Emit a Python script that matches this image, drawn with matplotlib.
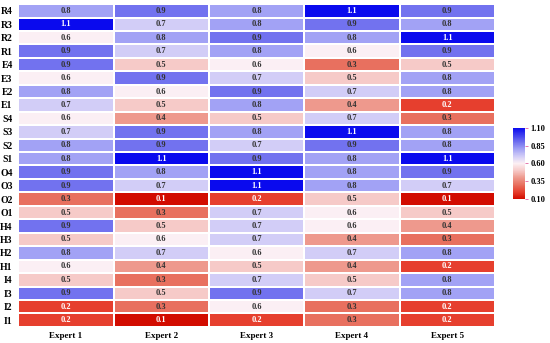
import numpy as np
import matplotlib
matplotlib.use("Agg")
import matplotlib.pyplot as plt
from matplotlib.colors import LinearSegmentedColormap, Normalize

# rows listed from top to bottom
rows = ["R4", "R3", "R2", "R1", "E4", "E3", "E2", "E1", "S4", "S3", "S2", "S1",
        "O4", "O3", "O2", "O1", "H4", "H3", "H2", "H1", "I4", "I3", "I2", "I1"]
experts = ["Expert 1", "Expert 2", "Expert 3", "Expert 4", "Expert 5"]

expert1 = [0.8, 1.1, 0.6, 0.9, 0.9, 0.6, 0.8, 0.7, 0.6, 0.7, 0.8, 0.8,
           0.9, 0.9, 0.3, 0.5, 0.9, 0.5, 0.8, 0.6, 0.5, 0.9, 0.2, 0.2]
expert2 = [0.9, 0.7, 0.8, 0.7, 0.5, 0.9, 0.6, 0.5, 0.4, 0.9, 0.9, 1.1,
           0.8, 0.7, 0.1, 0.3, 0.5, 0.6, 0.7, 0.4, 0.3, 0.5, 0.3, 0.1]
expert3 = [0.8, 0.8, 0.9, 0.8, 0.6, 0.7, 0.9, 0.8, 0.5, 0.8, 0.7, 0.9,
           1.1, 1.1, 0.2, 0.7, 0.7, 0.7, 0.6, 0.5, 0.7, 0.9, 0.6, 0.2]
expert4 = [1.1, 0.9, 0.8, 0.6, 0.3, 0.5, 0.7, 0.4, 0.7, 1.1, 0.9, 0.8,
           0.8, 0.8, 0.5, 0.6, 0.6, 0.4, 0.7, 0.4, 0.5, 0.7, 0.3, 0.3]
expert5 = [0.9, 0.8, 1.1, 0.9, 0.5, 0.8, 0.8, 0.2, 0.3, 0.8, 0.8, 1.1,
           0.9, 0.7, 0.1, 0.5, 0.4, 0.3, 0.8, 0.2, 0.8, 0.8, 0.2, 0.2]

cbar_ticks = [0.10, 0.35, 0.60, 0.85, 1.10]

data = np.array([expert1, expert2, expert3, expert4, expert5]).T

# red -> white -> blue, nodes picked to match the cell colours
vmin, vmax = 0.1, 1.1
nodes = [(0.1, "#d20c00"), (0.2, "#e6402f"), (0.3, "#e8705f"), (0.4, "#ee9a8e"),
         (0.5, "#f6cac8"), (0.6, "#fcf0f4"), (0.7, "#d2cdf7"), (0.8, "#a3a3f5"),
         (0.9, "#7272ef"), (1.1, "#0a0aee")]
cmap = LinearSegmentedColormap.from_list(
    "rwb", [((v - vmin) / (vmax - vmin), c) for v, c in nodes])
norm = Normalize(vmin, vmax)

plt.rcParams["font.family"] = "Liberation Serif"
plt.rcParams["font.weight"] = "bold"

fig = plt.figure(figsize=(5.5, 3.43), dpi=100)
ax = fig.add_axes([0.033, 0.047, 0.867, 0.941])
mesh = ax.pcolormesh(data, cmap=cmap, norm=norm, edgecolors="white", linewidth=1.2)
ax.set_xlim(0, len(experts))
ax.set_ylim(len(rows), 0)

for i in range(len(rows)):
    for j in range(len(experts)):
        v = data[i, j]
        col = "white" if (v <= 0.2 or v >= 1.05) else "#333333"
        ax.text(j + 0.5, i + 0.5, f"{v:.1f}", ha="center", va="center",
                fontsize=6, color=col, fontweight="bold")

ax.set_xticks(np.arange(len(experts)) + 0.5)
ax.set_xticklabels(experts, fontsize=6.5, fontweight="bold")
ax.set_yticks(np.arange(len(rows)) + 0.5)
ax.set_yticklabels(rows, fontsize=7, fontweight="bold")
ax.tick_params(axis="y", length=0, pad=4)
ax.tick_params(axis="x", length=0, pad=4)
for s in ax.spines.values():
    s.set_visible(False)

cax = fig.add_axes([0.933, 0.42, 0.022, 0.207])
cb = fig.colorbar(mesh, cax=cax, ticks=cbar_ticks)
cb.outline.set_visible(False)
cb.ax.set_yticklabels([f"{t:.2f}" for t in cbar_ticks], fontsize=6, fontweight="bold")
cb.ax.tick_params(length=2, width=0.6, color="#e060a0", pad=2)

fig.savefig("out.png", dpi=100)
